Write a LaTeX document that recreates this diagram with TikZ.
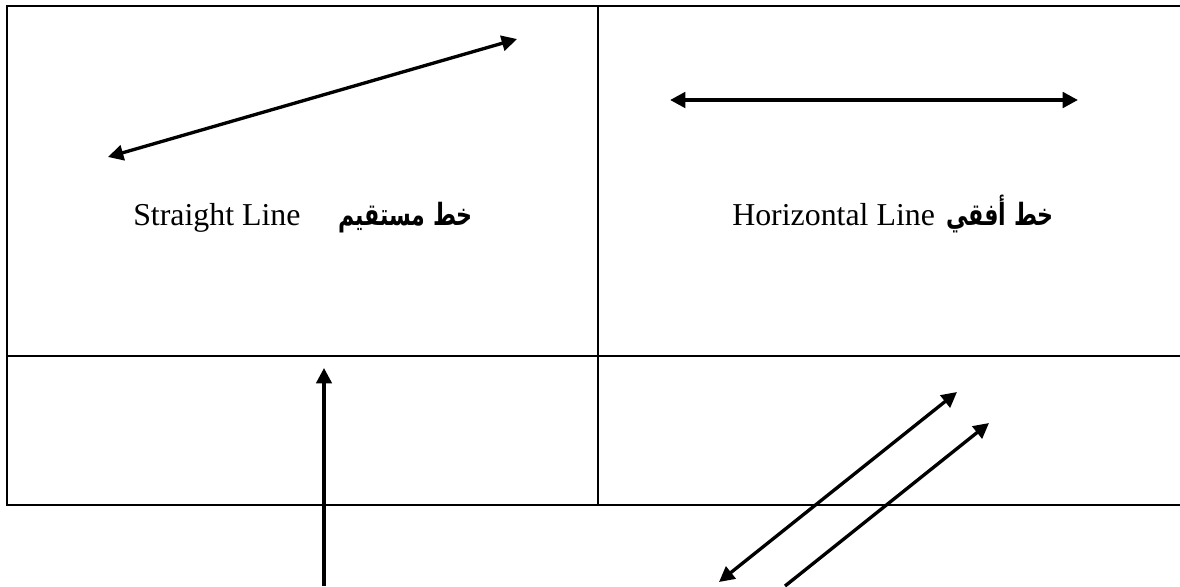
\documentclass[tikz,border=0pt]{standalone}
\usepackage{fontspec}
\setmainfont{Liberation Serif}
\newfontfamily\arabicfont[Script=Arabic,FakeStretch=0.72]{DejaVu Sans}
\TeXXeTstate=1
\usetikzlibrary{arrows.meta}
\tikzset{
  border/.style={line width=1.8pt, line cap=rect},
  inner/.style={line width=1.5pt},
  arr/.style={line width=2.5pt, -{Triangle[length=11.5pt,width=11.5pt]}},
  darr/.style={line width=2.5pt, {Triangle[length=11.5pt,width=11.5pt]}-{Triangle[length=11.5pt,width=11.5pt]}},
  entext/.style={inner sep=0pt, font=\fontsize{23.9}{28}\selectfont},
  artext/.style={inner sep=0pt, font=\arabicfont\bfseries\fontsize{23}{28}\selectfont},
}
\begin{document}
\begin{tikzpicture}[x=0.75pt,y=-0.75pt]
\useasboundingbox (0,0) rectangle (1180,586);
% table corners and edges
\coordinate (tl) at (7,6);
\coordinate (tr) at (1182,6);
\coordinate (ml) at (7,355.5);
\coordinate (mr) at (1182,355.5);
\coordinate (bl) at (7,505);
\coordinate (br) at (1182,505);
\coordinate (ct) at (598,6);
\coordinate (cb) at (598,505);
\draw[border] (tr) -- (tl) -- (bl) -- (br);
\draw[inner] (ml) -- (mr);
\draw[inner] (ct) -- (cb);
% straight line
\coordinate (s1) at (108,157);
\coordinate (s2) at (517,39);
\draw[darr] (s1) -- (s2);
% horizontal line
\coordinate (h1) at (670,100);
\coordinate (h2) at (1078,100);
\draw[darr, line width=2.8pt] (h1) -- (h2);
% vertical line
\coordinate (v1) at (324,586);
\coordinate (v2) at (324,368);
\draw[arr] (v1) -- (v2);
% parallel lines
\coordinate (p1) at (719,582);
\coordinate (p2) at (957,392);
\draw[darr] (p1) -- (p2);
\coordinate (q1) at (785,586);
\coordinate (q2) at (989,423);
\draw[arr] (q1) -- (q2);
% labels
\node[entext, anchor=base west] (sl) at (133,225) {Straight Line};
\node[artext, anchor=base east] (sa) at (473,225) {\beginR خط مستقيم\endR};
\node[entext, anchor=base west] (hl) at (732,225) {Horizontal Line};
\node[artext, anchor=base east] (ha) at (1054,225) {\beginR خط أفقي\endR};
\end{tikzpicture}
\end{document}
